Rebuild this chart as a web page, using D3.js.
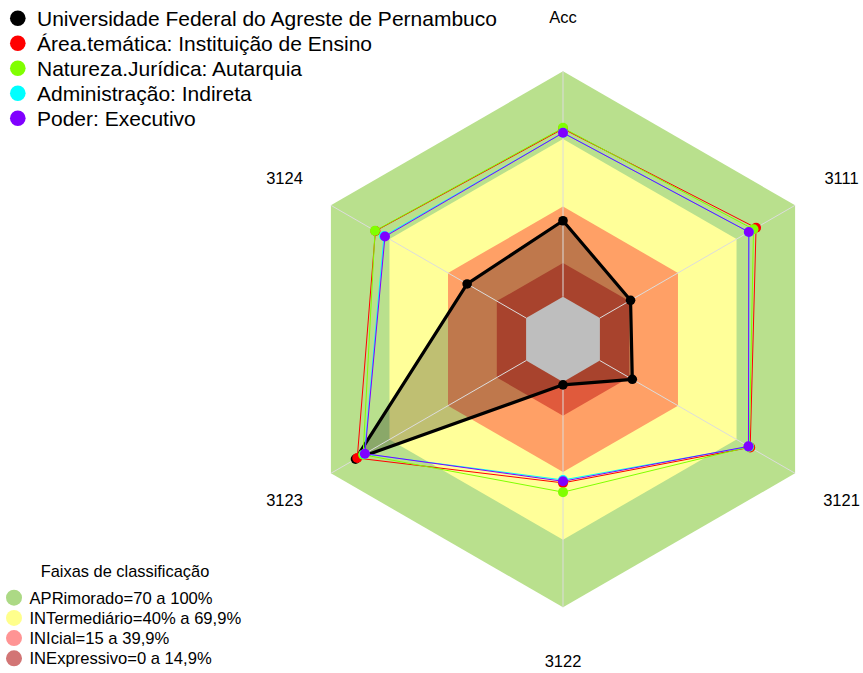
<!DOCTYPE html>
<html>
<head>
<meta charset="utf-8">
<script src="https://cdn.jsdelivr.net/npm/d3@7"></script>
<style>
  body { margin: 0; background: #fff; }
  text { font-family: "Liberation Sans", Arial, sans-serif; fill: #000; }
</style>
</head>
<body>
<div id="radar"></div>
<script>
// axis labels, clockwise from the top
const axes = ["Acc", "3111", "3121", "3122", "3123", "3124"];

const seriesNames = [
    "Universidade Federal do Agreste de Pernambuco",
    "Área.temática: Instituição de Ensino",
    "Natureza.Jurídica: Autarquia",
    "Administração: Indireta",
    "Poder: Executivo"
];
const seriesColors = ["#000000", "#ff0000", "#80ff00", "#00ffff", "#8000ff"];

const ufape      = [33.7, 15.7, 16.6, 1.3, 87.4, 30.2];
const areaTemat  = [74.5, 80.0, 77.0, 44.8, 86.5, 77.2];
const natureza   = [74.9, 78.7, 76.5, 48.9, 83.5, 77.4];
const administr  = [72.7, 76.3, 76.3, 43.5, 82.8, 72.8];
const poder      = [72.7, 76.3, 76.1, 44.1, 82.6, 72.3];
const allSeries = [ufape, areaTemat, natureza, administr, poder];

// classification bands (upper limit of each band)
const bandNames = ["APRimorado=70 a 100%", "INTermediário=40% a 69,9%", "INIcial=15 a 39,9%", "INExpressivo=0 a 14,9%"];
const bandLimits = [100, 70, 40, 15];
const bandFills = ["#b9e08d", "#ffff99", "#ffa066", "#e05a3c"];
const bandLegendColors = ["#acd985", "#ffff8c", "#ff9494", "#d27575"];

const width = 863, height = 673;
const cx = 563, cy = 339.3, R = 268;

const svg = d3.select("#radar")
    .append("svg")
    .attr("width", width)
    .attr("height", height);

const r = d3.scaleLinear().domain([0, 100]).range([R * 0.159, R]);
const angle = d3.scaleLinear().domain([0, axes.length]).range([-Math.PI / 2, 1.5 * Math.PI]);

function pt(i, v) {
    return [cx + r(v) * Math.cos(angle(i)), cy + r(v) * Math.sin(angle(i))];
}
const hexLine = d3.line().curve(d3.curveLinearClosed);
function polyOf(values) {
    return hexLine(values.map((v, i) => pt(i, v)));
}

const plot = svg.append("g");

// bands
plot.selectAll(".band")
    .data(bandLimits)
    .enter()
    .append("path")
    .attr("class", "band")
    .attr("d", d => polyOf(axes.map(() => d)))
    .style("fill", (d, i) => bandFills[i]);

// fill of the main series
plot.append("path")
    .attr("d", polyOf(ufape))
    .style("fill", "rgba(0,0,0,0.25)")
    .style("stroke", "none");

// empty centre
plot.append("path")
    .attr("d", polyOf(axes.map(() => 0)))
    .style("fill", "#bebebe");

// radial axis lines
plot.selectAll(".axisLine")
    .data(axes)
    .enter()
    .append("line")
    .attr("x1", (d, i) => pt(i, 0)[0])
    .attr("y1", (d, i) => pt(i, 0)[1])
    .attr("x2", (d, i) => pt(i, 100)[0])
    .attr("y2", (d, i) => pt(i, 100)[1])
    .style("stroke", "#dcdcdc")
    .style("stroke-width", 1);

// series lines and points
allSeries.forEach(function (values, s) {
    plot.append("path")
        .attr("d", polyOf(values))
        .style("fill", "none")
        .style("stroke", seriesColors[s])
        .style("stroke-width", s === 0 ? 3.2 : 1)
        .style("stroke-linejoin", "round");

    plot.selectAll(".pt" + s)
        .data(values)
        .enter()
        .append("circle")
        .attr("class", "pt" + s)
        .attr("cx", (d, i) => pt(i, d)[0])
        .attr("cy", (d, i) => pt(i, d)[1])
        .attr("r", s === 0 ? 4.8 : 5)
        .style("fill", seriesColors[s]);
});

// axis labels at 1.2 x radius
svg.selectAll(".vlabel")
    .data(axes)
    .enter()
    .append("text")
    .attr("class", "vlabel")
    .attr("x", (d, i) => cx + 1.2 * R * Math.cos(angle(i)))
    .attr("y", (d, i) => cy + 1.2 * R * Math.sin(angle(i)))
    .attr("dy", "0.35em")
    .style("text-anchor", "middle")
    .style("font-size", "16.5px")
    .text(d => d);

// series legend
const legend = svg.append("g");
seriesNames.forEach(function (name, i) {
    const y = 18.3 + i * 25;
    legend.append("circle")
        .attr("cx", 17.8)
        .attr("cy", y)
        .attr("r", 7.8)
        .style("fill", seriesColors[i]);
    legend.append("text")
        .attr("x", 37)
        .attr("y", y)
        .attr("dy", "0.35em")
        .style("font-size", "21px")
        .text(name);
});

// band legend
const bandLegend = svg.append("g");
bandLegend.append("text")
    .attr("x", 125)
    .attr("y", 571)
    .attr("dy", "0.35em")
    .style("text-anchor", "middle")
    .style("font-size", "16.4px")
    .text("Faixas de classificação");
bandNames.forEach(function (name, i) {
    const y = 597.7 + i * 20.2;
    bandLegend.append("circle")
        .attr("cx", 14)
        .attr("cy", y)
        .attr("r", 8)
        .style("fill", bandLegendColors[i]);
    bandLegend.append("text")
        .attr("x", 29.5)
        .attr("y", y)
        .attr("dy", "0.35em")
        .style("font-size", "16.6px")
        .text(name);
});
</script>
</body>
</html>
